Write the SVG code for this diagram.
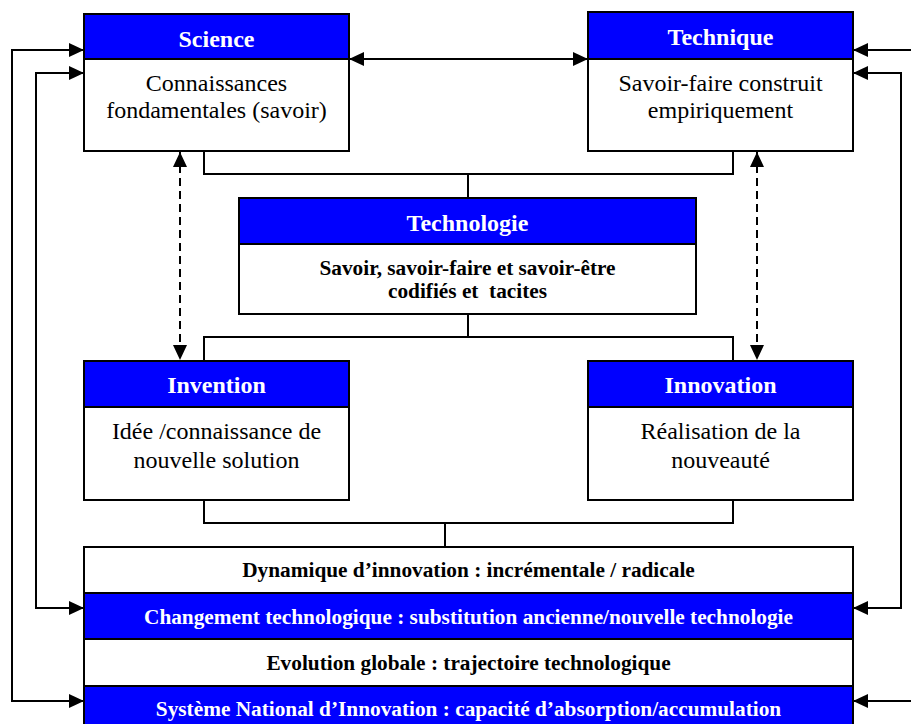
<svg xmlns="http://www.w3.org/2000/svg" width="911" height="724" viewBox="0 0 911 724">
<style>
.box{fill:#fff;stroke:#000;stroke-width:2}
.hdr{fill:#0000ff;stroke:#000;stroke-width:2}
.ht{font-family:"Liberation Serif","Times New Roman",serif;font-weight:bold;font-size:24px;fill:#fff;text-anchor:middle}
.bt{font-family:"Liberation Serif","Tinos","Noto Serif","DejaVu Serif",serif;font-weight:normal;font-style:normal;font-size:24px;fill:#000;text-anchor:middle}
.sb{font-family:"Liberation Serif","Times New Roman",serif;font-weight:bold;font-size:21.3px;fill:#000;text-anchor:middle}
.sw{font-family:"Liberation Serif","Times New Roman",serif;font-weight:bold;font-size:21.3px;fill:#fff;text-anchor:middle}
.ln{fill:none;stroke:#000;stroke-width:2}
.ds{fill:none;stroke:#000;stroke-width:2;stroke-dasharray:8 5}
</style>
<defs>
<marker id="ah" markerUnits="userSpaceOnUse" markerWidth="15" markerHeight="14" refX="15" refY="7" orient="auto-start-reverse" viewBox="0 0 15 14">
<path d="M0,0 L15,7 L0,14 z" fill="#000"/>
</marker>
</defs>
<rect width="911" height="724" fill="#fff"/>
<g id="connectors">
<path class="ln" d="M349,59 H588" marker-start="url(#ah)" marker-end="url(#ah)"/>
<path class="ds" d="M180,152 V360" marker-start="url(#ah)" marker-end="url(#ah)"/>
<path class="ds" d="M757,152 V360" marker-start="url(#ah)" marker-end="url(#ah)"/>
<path class="ln" d="M204,151 V174 H733 V151"/>
<path class="ln" d="M468,174 V198"/>
<path class="ln" d="M468,314 V337"/>
<path class="ln" d="M204,361 V337 H733 V361"/>
<path class="ln" d="M204,500 V523 H733 V500"/>
<path class="ln" d="M445,523 V547"/>
<path class="ln" d="M84,50 H12 V701 H84" marker-start="url(#ah)" marker-end="url(#ah)"/>
<path class="ln" d="M84,73 H36 V608 H84" marker-start="url(#ah)" marker-end="url(#ah)"/>
<path class="ln" d="M853,73 H901 V608 H853" marker-start="url(#ah)" marker-end="url(#ah)"/>
<path class="ln" d="M853,50 H918 V701 H853" marker-start="url(#ah)" marker-end="url(#ah)"/>
</g>
<g id="science">
<rect class="box" x="84" y="14" width="265" height="137"/>
<rect class="hdr" x="84" y="14" width="265" height="45"/>
<text class="ht" x="216.5" y="47">Science</text>
<text class="bt" x="216.5" y="91">Connaissances</text>
<text class="bt" x="216.5" y="118">fondamentales (savoir)</text>
</g>
<g id="technique">
<rect class="box" x="588" y="12" width="265" height="139"/>
<rect class="hdr" x="588" y="12" width="265" height="47"/>
<text class="ht" x="720.5" y="45">Technique</text>
<text class="bt" x="720.5" y="91">Savoir-faire construit</text>
<text class="bt" x="720.5" y="118">empiriquement</text>
</g>
<g id="technologie">
<rect class="box" x="239" y="198" width="457" height="116"/>
<rect class="hdr" x="239" y="198" width="457" height="46"/>
<text class="ht" x="467.5" y="231">Technologie</text>
<text class="sb" x="467.5" y="275">Savoir, savoir-faire et savoir-être</text>
<text class="sb" x="467.5" y="298" xml:space="preserve">codifiés et  tacites</text>
</g>
<g id="invention">
<rect class="box" x="84" y="361" width="265" height="139"/>
<rect class="hdr" x="84" y="361" width="265" height="46"/>
<text class="ht" x="216.5" y="393">Invention</text>
<text class="bt" x="216.5" y="439">Idée /connaissance de</text>
<text class="bt" x="216.5" y="468">nouvelle solution</text>
</g>
<g id="innovation">
<rect class="box" x="588" y="361" width="265" height="139"/>
<rect class="hdr" x="588" y="361" width="265" height="46"/>
<text class="ht" x="720.5" y="393">Innovation</text>
<text class="bt" x="720.5" y="439">Réalisation de la</text>
<text class="bt" x="720.5" y="468">nouveauté</text>
</g>
<g id="dynamique">
<rect class="box" x="84" y="547" width="769" height="46"/>
<rect class="hdr" x="84" y="593" width="769" height="46"/>
<rect class="box" x="84" y="639" width="769" height="47"/>
<rect class="hdr" x="84" y="686" width="769" height="46"/>
<text class="sb" x="468.5" y="577">Dynamique d’innovation : incrémentale / radicale</text>
<text class="sw" x="468.5" y="624">Changement technologique : substitution ancienne/nouvelle technologie</text>
<text class="sb" x="468.5" y="670">Evolution globale : trajectoire technologique</text>
<text class="sw" x="468.5" y="716">Système National d’Innovation : capacité d’absorption/accumulation</text>
</g>
</svg>
